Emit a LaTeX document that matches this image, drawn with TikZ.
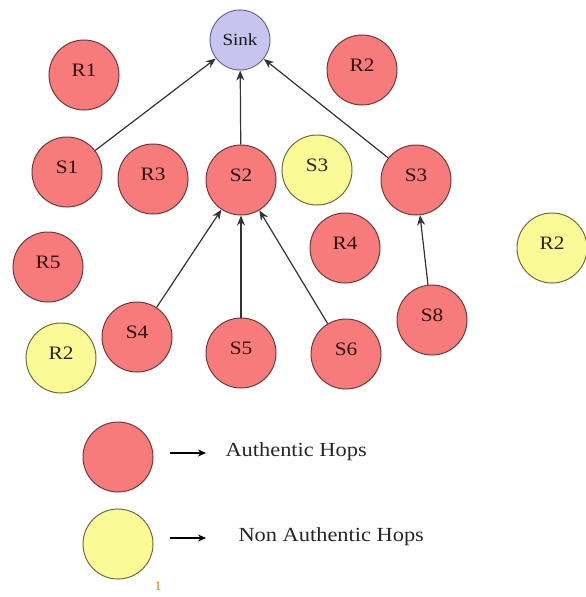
\documentclass[tikz,border=0pt]{standalone}
\usepackage{fontspec}
\setmainfont{Liberation Serif}[FakeStretch=1.12]
\usetikzlibrary{arrows.meta}
\definecolor{redfill}{HTML}{F87B7B}
\definecolor{redline}{HTML}{6E3A3A}
\definecolor{yelfill}{HTML}{FAFA96}
\definecolor{yelline}{HTML}{6E6E3C}
\definecolor{purfill}{HTML}{C9C3F0}
\definecolor{purline}{HTML}{6C6A8C}
\definecolor{edgecol}{HTML}{333333}
\definecolor{labcol}{HTML}{2E1010}
\tikzset{
  hop/.style={circle, minimum size=70pt, inner sep=0pt, line width=1pt, text depth=9pt, font=\fontsize{19}{19}\selectfont, text=labcol},
  auth/.style={hop, draw=redline, fill=redfill},
  nonauth/.style={hop, draw=yelline, fill=yelfill, text=black!85},
  sinknode/.style={hop, minimum size=60pt, text depth=0pt, draw=purline, fill=purfill, text=black!90, font=\fontsize{17}{17}\selectfont},
  link/.style={draw=edgecol, line width=1.2pt, -{Stealth[length=10pt,width=8pt]}},
  legarrow/.style={draw=black, line width=1.3pt, -{Stealth[length=8pt,width=7pt]}},
  legtext/.style={anchor=west, font=\fontsize{20}{20}\selectfont, text=black!85}
}
\begin{document}
\begin{tikzpicture}[x=1pt,y=-1pt]
\useasboundingbox (0,0) rectangle (586,597);
\node[sinknode] (sink) at (240,40) {Sink};
\node[auth] (r1) at (84,75) {R1};
\node[auth] (r2a) at (362,70) {R2};
\node[auth] (s1) at (67,172) {S1};
\node[auth] (r3) at (153,179) {R3};
\node[auth] (s2) at (241,180) {S2};
\node[nonauth] (s3y) at (317,170) {S3};
\node[auth] (s3) at (416,180) {S3};
\node[auth] (r5) at (48,267) {R5};
\node[auth] (r4) at (345,248) {R4};
\node[nonauth] (r2c) at (552,248) {R2};
\node[nonauth] (r2b) at (61,358) {R2};
\node[auth] (s4) at (137,337) {S4};
\node[auth] (s5) at (241,353) {S5};
\node[auth] (s6) at (346,354) {S6};
\node[auth] (s8) at (432,320) {S8};

\draw[link] (s1) -- (sink);
\draw[link] (s2) -- (sink);
\draw[link] (s3) -- (sink);
\draw[link] (s4) -- (s2);
\draw[link] (s5) -- (s2);
\draw[link] (s6) -- (s2);
\draw[link] (s8) -- (s3);

% legend
\node[auth] (la) at (118,457) {};
\node[nonauth] (ln) at (118,544) {};
\coordinate (a1s) at (170,453);
\coordinate (a1e) at (206,453);
\coordinate (a2s) at (170,538);
\coordinate (a2e) at (206,538);
\draw[legarrow] (a1s) -- (a1e);
\draw[legarrow] (a2s) -- (a2e);
\node[legtext] (lt1) at (222,452) {Authentic Hops};
\node[legtext] (lt2) at (235,537) {Non Authentic Hops};
\node[font=\fontsize{13}{13}\selectfont, text=orange!80!brown] (stray) at (158,586) {1};
\end{tikzpicture}
\end{document}
